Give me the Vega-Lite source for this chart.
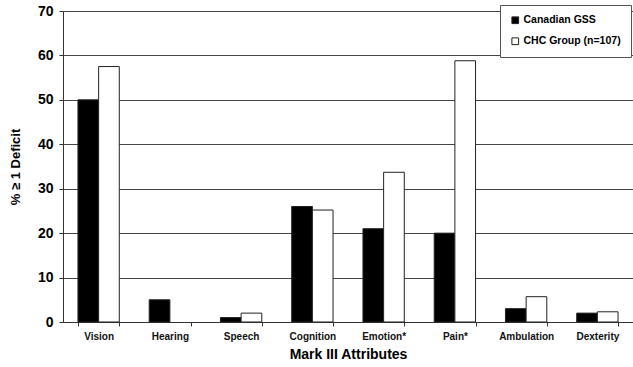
{
  "$schema": "https://vega.github.io/schema/vega-lite/v6.json",
  "width": 570,
  "height": 311,
  "autosize": "none",
  "padding": {"left": 63, "top": 11, "right": 0, "bottom": 45},
  "background": "white",
  "data": {
    "values": [
      {"attr": "Vision", "group": "Canadian GSS", "value": 50},
      {"attr": "Vision", "group": "CHC Group (n=107)", "value": 57.5},
      {"attr": "Hearing", "group": "Canadian GSS", "value": 5},
      {"attr": "Hearing", "group": "CHC Group (n=107)", "value": 0},
      {"attr": "Speech", "group": "Canadian GSS", "value": 1},
      {"attr": "Speech", "group": "CHC Group (n=107)", "value": 2},
      {"attr": "Cognition", "group": "Canadian GSS", "value": 26},
      {"attr": "Cognition", "group": "CHC Group (n=107)", "value": 25.2},
      {"attr": "Emotion*", "group": "Canadian GSS", "value": 21},
      {"attr": "Emotion*", "group": "CHC Group (n=107)", "value": 33.7},
      {"attr": "Pain*", "group": "Canadian GSS", "value": 20},
      {"attr": "Pain*", "group": "CHC Group (n=107)", "value": 58.8},
      {"attr": "Ambulation", "group": "Canadian GSS", "value": 3},
      {"attr": "Ambulation", "group": "CHC Group (n=107)", "value": 5.7},
      {"attr": "Dexterity", "group": "Canadian GSS", "value": 2},
      {"attr": "Dexterity", "group": "CHC Group (n=107)", "value": 2.3}
    ]
  },
  "config": {
    "view": {"stroke": null},
    "font": "Liberation Sans"
  },
  "mark": {"type": "bar", "stroke": "#222", "strokeWidth": 1},
  "encoding": {
    "x": {
      "field": "attr",
      "type": "nominal",
      "sort": ["Vision", "Hearing", "Speech", "Cognition", "Emotion*", "Pain*", "Ambulation", "Dexterity"],
      "scale": {"paddingInner": 0.42, "paddingOuter": 0.21},
      "axis": {
        "title": "Mark III Attributes",
        "titleFont": "Liberation Sans",
        "titleFontSize": 14,
        "titleFontWeight": "bold",
        "titleColor": "black",
        "titlePadding": 6,
        "labelAngle": 0,
        "labelFontSize": 10,
        "labelFontWeight": "bold",
        "labelColor": "#111",
        "labelPadding": 5,
        "domainColor": "#333",
        "tickColor": "#333",
        "tickSize": 4,
        "tickBand": "extent",
        "grid": false
      }
    },
    "xOffset": {
      "field": "group",
      "type": "nominal",
      "sort": ["Canadian GSS", "CHC Group (n=107)"],
      "scale": {"paddingInner": 0, "paddingOuter": 0}
    },
    "y": {
      "field": "value",
      "type": "quantitative",
      "scale": {"domain": [0, 70], "nice": false},
      "axis": {
        "title": "% ≥ 1 Deficit",
        "titleFont": "Liberation Sans",
        "titleFontSize": 13,
        "titleFontWeight": "bold",
        "titleColor": "black",
        "titlePadding": 15,
        "values": [0, 10, 20, 30, 40, 50, 60, 70],
        "labelFontSize": 14,
        "labelFontWeight": "bold",
        "labelColor": "black",
        "labelPadding": 6,
        "tickSize": 4,
        "tickColor": "#333",
        "domainColor": "#333",
        "grid": true,
        "gridColor": "#444",
        "gridOpacity": 1,
        "gridWidth": 1
      }
    },
    "strokeOpacity": {
      "condition": {"test": "datum.value == 0", "value": 0},
      "value": 1
    },
    "fill": {
      "field": "group",
      "type": "nominal",
      "scale": {"domain": ["Canadian GSS", "CHC Group (n=107)"], "range": ["black", "white"]},
      "legend": {
        "title": null,
        "orient": "none",
        "legendX": 437,
        "legendY": -6,
        "strokeColor": "#555",
        "fillColor": "white",
        "padding": 10,
        "symbolType": "square",
        "symbolSize": 45,
        "symbolStrokeColor": "#222",
        "symbolStrokeWidth": 1,
        "labelFontSize": 10.5,
        "labelFontWeight": "bold",
        "labelColor": "black",
        "labelOffset": 3,
        "rowPadding": 9
      }
    }
  }
}
